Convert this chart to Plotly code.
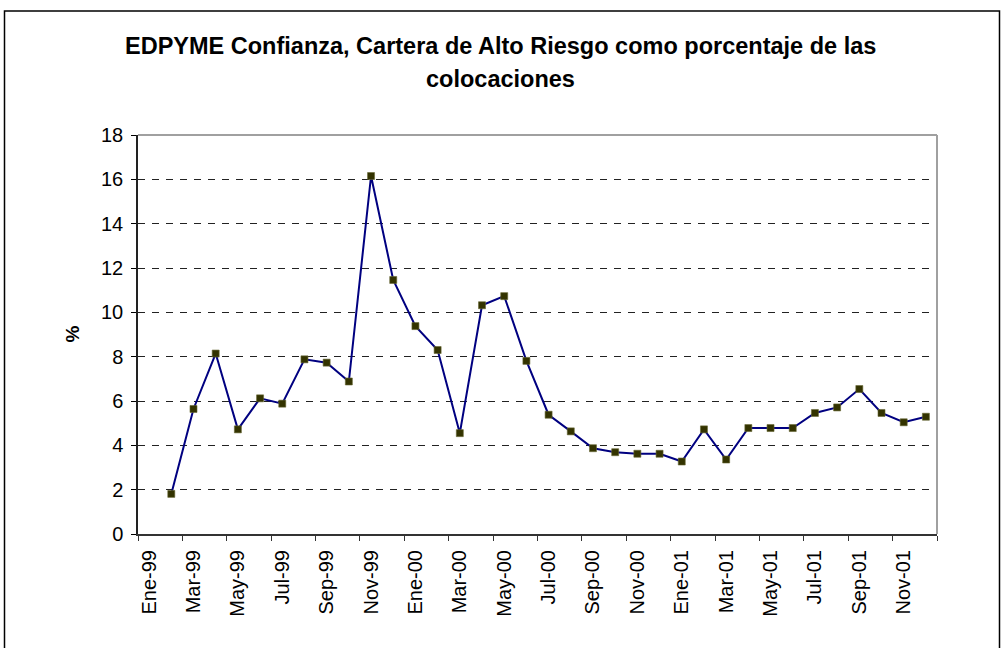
import plotly.graph_objects as go

months = ["Ene-99", "Feb-99", "Mar-99", "Abr-99", "May-99", "Jun-99", "Jul-99", "Ago-99",
          "Sep-99", "Oct-99", "Nov-99", "Dic-99",
          "Ene-00", "Feb-00", "Mar-00", "Abr-00", "May-00", "Jun-00", "Jul-00", "Ago-00",
          "Sep-00", "Oct-00", "Nov-00", "Dic-00",
          "Ene-01", "Feb-01", "Mar-01", "Abr-01", "May-01", "Jun-01", "Jul-01", "Ago-01",
          "Sep-01", "Oct-01", "Nov-01", "Dic-01"]

data_months = months[1:]
cartera_pct = [1.81, 5.64, 8.14, 4.72, 6.12, 5.88, 7.88, 7.73, 6.88, 16.15, 11.46,
               9.38, 8.30, 4.55, 10.32, 10.73, 7.81, 5.38, 4.63, 3.87, 3.69, 3.62, 3.62,
               3.27, 4.72, 3.36, 4.78, 4.78, 4.78, 5.46, 5.71, 6.54, 5.46, 5.04, 5.29]

title_line1 = "EDPYME Confianza, Cartera de Alto Riesgo como porcentaje de las"
title_line2 = "colocaciones"
y_title = "%"

FONT = "Liberation Sans, Arial, sans-serif"

fig = go.Figure()
fig.add_trace(go.Scatter(
    x=data_months, y=cartera_pct, mode="lines+markers",
    line=dict(color="#000080", width=2),
    marker=dict(symbol="square", size=7, color="#333300",
                line=dict(color="#666633", width=0.6)),
    showlegend=False, cliponaxis=False,
))

L, R, T, B = 138, 65, 135, 114
W, H = 1002, 648
pw = W - L - R
ph = H - T - B


def py(ypx):
    return (H - B - ypx) / ph


def px(xpx):
    return (xpx - L) / pw


fig.update_layout(
    width=W, height=H,
    margin=dict(l=L, r=R, t=T, b=B, pad=0),
    paper_bgcolor="white", plot_bgcolor="white",
    font=dict(family=FONT, color="black", size=20),
    xaxis=dict(type="category", categoryorder="array", categoryarray=months,
               range=[-0.5, 35.5], tickmode="linear", tick0=0, dtick=2,
               tickson="boundaries", ticks="outside", ticklen=5, tickwidth=1,
               tickcolor="#333333", showline=True, linecolor="#333333", linewidth=2,
               showgrid=False, zeroline=False, tickangle=-90,
               tickfont=dict(family=FONT, size=20), ticklabelstandoff=6),
    yaxis=dict(range=[0, 18], tickmode="linear", tick0=0, dtick=2,
               ticks="outside", ticklen=5, tickwidth=1, tickcolor="black",
               showline=True, linecolor="#222222", linewidth=1.5,
               showgrid=True, gridcolor="#222222", gridwidth=1, griddash="7px,7px",
               zeroline=False, tickfont=dict(family=FONT, size=20), ticklabelstandoff=4),
    shapes=[
        dict(type="line", xref="paper", yref="paper", x0=0, x1=1, y0=1, y1=1,
             line=dict(color="#a0a0a0", width=2), layer="above"),
        dict(type="line", xref="paper", yref="paper", x0=1, x1=1, y0=0, y1=1,
             line=dict(color="#a0a0a0", width=2), layer="above"),
        dict(type="rect", xref="paper", yref="paper",
             x0=px(4.5), x1=px(999.5), y0=py(700), y1=py(11),
             line=dict(color="black", width=1.5), fillcolor="rgba(0,0,0,0)", layer="below"),
    ],
    annotations=[
        dict(text="<b>" + title_line1 + "</b>", xref="paper", yref="paper",
             x=px(500), y=py(46), xanchor="center", yanchor="middle",
             showarrow=False, font=dict(family=FONT, size=23.5)),
        dict(text="<b>" + title_line2 + "</b>", xref="paper", yref="paper",
             x=px(500), y=py(79), xanchor="center", yanchor="middle",
             showarrow=False, font=dict(family=FONT, size=23.5)),
        dict(text="<b>" + y_title + "</b>", xref="paper", yref="paper",
             x=px(72), y=0.5, xanchor="center", yanchor="middle",
             textangle=-90, showarrow=False, font=dict(family=FONT, size=19)),
    ],
)

fig.write_html("out.html", config={"displayModeBar": False},
               post_script="document.body.style.margin='0';")
